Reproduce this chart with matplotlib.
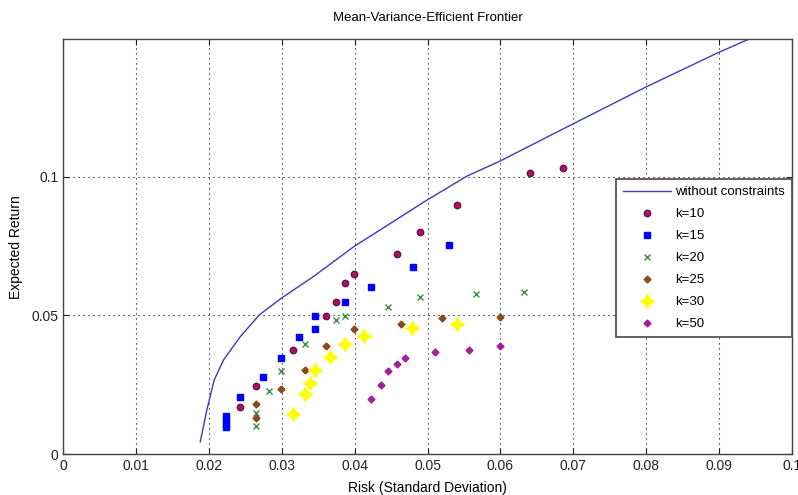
import matplotlib
matplotlib.use('Agg')
import matplotlib.pyplot as plt

plt.rcParams['font.family'] = ['Liberation Sans Narrow', 'Liberation Sans', 'DejaVu Sans']

# efficient frontier without constraints
frontier_risk = [0.0188, 0.0197, 0.0207, 0.0220, 0.0243, 0.0269, 0.0299, 0.0343, 0.0399,
                 0.0435, 0.0497, 0.0554, 0.0600, 0.0700, 0.0800, 0.0900, 0.0952]
frontier_ret = [0.0044, 0.0159, 0.0267, 0.0340, 0.0424, 0.0502, 0.0562, 0.0640, 0.0749,
                0.0809, 0.0913, 0.1003, 0.1058, 0.1192, 0.1325, 0.1450, 0.1510]

k10_risk = [0.0243, 0.0265, 0.0315, 0.0361, 0.0374, 0.0387, 0.0399, 0.0458, 0.0489, 0.0540, 0.0641, 0.0686]
k10_ret = [0.0169, 0.0247, 0.0376, 0.0497, 0.0550, 0.0619, 0.0649, 0.0723, 0.0801, 0.0900, 0.1016, 0.1034]

k15_risk = [0.0223, 0.0223, 0.0223, 0.0223, 0.0243, 0.0274, 0.0299, 0.0324, 0.0345, 0.0345,
            0.0387, 0.0423, 0.0480, 0.0529]
k15_ret = [0.0098, 0.0110, 0.0124, 0.0137, 0.0207, 0.0277, 0.0346, 0.0424, 0.0452, 0.0497,
           0.0550, 0.0602, 0.0674, 0.0753]

k20_risk = [0.0264, 0.0265, 0.0282, 0.0299, 0.0332, 0.0374, 0.0387, 0.0446, 0.0489, 0.0566, 0.0632]
k20_ret = [0.0101, 0.0147, 0.0229, 0.0301, 0.0398, 0.0482, 0.0497, 0.0532, 0.0568, 0.0579, 0.0584]

k25_risk = [0.0265, 0.0265, 0.0299, 0.0332, 0.0361, 0.0399, 0.0464, 0.0520, 0.0600]
k25_ret = [0.0131, 0.0182, 0.0234, 0.0303, 0.0390, 0.0450, 0.0468, 0.0490, 0.0496]

k30_risk = [0.0315, 0.0332, 0.0339, 0.0345, 0.0366, 0.0387, 0.0413, 0.0479, 0.0540]
k30_ret = [0.0145, 0.0217, 0.0258, 0.0303, 0.0352, 0.0397, 0.0426, 0.0454, 0.0468]

k50_risk = [0.0423, 0.0436, 0.0446, 0.0458, 0.0469, 0.0510, 0.0557, 0.0600]
k50_ret = [0.0199, 0.0249, 0.0299, 0.0325, 0.0346, 0.0367, 0.0376, 0.0389]

x_ticks = [0, 0.01, 0.02, 0.03, 0.04, 0.05, 0.06, 0.07, 0.08, 0.09, 0.1]
x_labels = ['0', '0.01', '0.02', '0.03', '0.04', '0.05', '0.06', '0.07', '0.08', '0.09', '0.1']
y_ticks = [0, 0.05, 0.1]
y_labels = ['0', '0.05', '0.1']

fig = plt.figure(figsize=(7.98, 4.95), dpi=100)
ax = fig.add_axes([0.0794, 0.0828, 0.9127, 0.8378])

ax.plot(frontier_risk, frontier_ret, '-', color='#3b3bbf', lw=1.0, label='without constraints')
ax.plot(k10_risk, k10_ret, 'o', color='#b0145e', mec='#66104e', ms=4.6, label='k=10')
ax.plot(k15_risk, k15_ret, 's', color='#0000ff', mec='#0000ff', ms=4.6, label='k=15')
ax.plot(k20_risk, k20_ret, 'x', color='#3c8c4a', ms=5, mew=1.0, label='k=20')
ax.plot(k25_risk, k25_ret, 'D', color='#8a4a1c', ms=3.5, label='k=25')
ax.plot(k30_risk, k30_ret, marker=(4, 1, 0), ls='none', color='#ffff00', mec='#ffff00', ms=10, label='k=30')
ax.plot(k50_risk, k50_ret, 'D', color='#a0209a', ms=3.5, label='k=50')

ax.set_xlim(0, 0.1)
ax.set_ylim(0, 0.1497)
ax.set_xticks(x_ticks)
ax.set_xticklabels(x_labels)
ax.set_yticks(y_ticks)
ax.set_yticklabels(y_labels)
ax.tick_params(direction='in', length=4, top=True, right=True, labelsize=10, colors='#222222')
ax.grid(True, color='black', linestyle=(0, (1, 3.5)), lw=0.8)
for sp in ax.spines.values():
    sp.set_color('#444444')
    sp.set_linewidth(1.0)

ax.set_title('Mean-Variance-Efficient Frontier', fontsize=9.5, pad=13)
ax.set_xlabel('Risk (Standard Deviation)', fontsize=10, labelpad=6)
ax.set_ylabel('Expected Return', fontsize=10, labelpad=6)

leg = ax.legend(loc='upper right', bbox_to_anchor=(1.0, 0.662), borderaxespad=0, fancybox=False,
                edgecolor='#555555', framealpha=1, fontsize=9.5, labelspacing=0.74,
                handlelength=3.7, handletextpad=0.3, borderpad=0.5)
leg.get_frame().set_linewidth(1.3)

fig.savefig('out.png', dpi=100)
